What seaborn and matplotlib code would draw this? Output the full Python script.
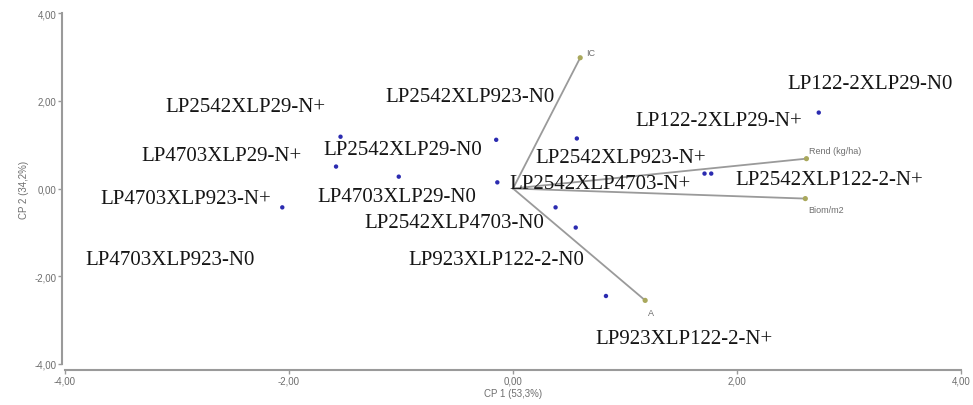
import matplotlib
matplotlib.use("Agg")
import matplotlib.pyplot as plt
import seaborn as sns
import pandas as pd

# Observation scores on the first two principal components
score_cp1 = [2.73, 0.57, -0.15, -1.54, -1.58, -1.02, -2.06, -0.14, 1.71, 1.77, 0.56, 0.38, 0.83]
score_cp2 = [1.73, 1.14, 1.11, 1.18, 0.50, 0.27, -0.43, 0.14, 0.34, 0.34, -0.89, -0.43, -2.45]

# Genotype x nitrogen treatment names
treatments = [
    "LP122-2XLP29-N0", "LP2542XLP923-N0", "LP2542XLP29-N+", "LP122-2XLP29-N+",
    "LP4703XLP29-N+", "LP2542XLP29-N0", "LP2542XLP923-N+", "LP2542XLP4703-N+",
    "LP2542XLP122-2-N+", "LP4703XLP923-N+", "LP4703XLP29-N0", "LP2542XLP4703-N0",
    "LP4703XLP923-N0", "LP923XLP122-2-N0", "LP923XLP122-2-N+",
]

# Variable loadings (biplot vectors)
variables = ["IC", "Rend (kg/ha)", "Biom/m2", "A"]
load_cp1 = [0.60, 2.62, 2.61, 1.18]
load_cp2 = [2.98, 0.68, -0.23, -2.55]

axis_ticks = [-4, -2, 0, 2, 4]
x_title = "CP 1 (53,3%)"
y_title = "CP 2 (34,2%)"

# Label placement (data coordinates of each treatment name centre)
label_pos = [
    (3.19, 2.39), (-0.38, 2.09), (-2.39, 1.86), (1.84, 1.55),
    (-2.60, 0.75), (-0.98, 0.89), (0.96, 0.70), (0.78, 0.11),
    (2.82, 0.20), (-2.92, -0.23), (-1.04, -0.18), (-0.52, -0.77),
    (-3.06, -1.61), (-0.15, -1.61), (1.53, -3.43),
]
# Offsets (points) of variable names from the vector tips
var_offsets = [(4, 4), (2, 6), (2, -8), (2, -9)]

sns.set_theme(style="white")
plt.rcParams["font.family"] = ["Liberation Sans", "DejaVu Sans"]

fig = plt.figure(figsize=(9.73, 4.06), dpi=100)
ax = fig.add_axes([65 / 973, 41 / 406, 896 / 973, 351 / 406])

gray = "#9a9a9a"
text_gray = "#6e6e6e"

# Loading vectors
for vx, vy in zip(load_cp1, load_cp2):
    ax.plot([0, vx], [0, vy], color=gray, lw=1.3, zorder=1)
loads = pd.DataFrame({"cp1": load_cp1, "cp2": load_cp2, "var": variables})
sns.scatterplot(data=loads, x="cp1", y="cp2", ax=ax, color="#a9a85c",
                s=14, edgecolor="none", zorder=3, legend=False)
for (name, vx, vy), off in zip(zip(variables, load_cp1, load_cp2), var_offsets):
    ax.annotate(name, (vx, vy), xytext=off, textcoords="offset points",
                fontsize=6.5, color=text_gray, ha="left", va="center")

# Observation scores
scores = pd.DataFrame({"cp1": score_cp1, "cp2": score_cp2})
sns.scatterplot(data=scores, x="cp1", y="cp2", ax=ax, color="#2b2bb0",
                s=10, edgecolor="none", zorder=4, legend=False)

for name, (lx, ly) in zip(treatments, label_pos):
    ax.text(lx, ly, name, fontsize=15, color="#151515", ha="center",
            va="center", family=["Liberation Serif", "DejaVu Serif"], zorder=5)

ax.set_xlim(-4, 4)
ax.set_ylim(-4, 4)
ax.set_xticks(axis_ticks)
ax.set_yticks(axis_ticks)
ax.set_xticklabels([f"{t:.2f}".replace(".", ",") for t in axis_ticks])
ax.set_yticklabels([f"{t:.2f}".replace(".", ",") for t in axis_ticks])
ax.set_xlabel(x_title, fontsize=7, color=text_gray, labelpad=2)
ax.set_ylabel(y_title, fontsize=7, color=text_gray, labelpad=4)

for side in ["top", "right"]:
    ax.spines[side].set_visible(False)
ax.spines["left"].set_position(("outward", 2))
ax.spines["bottom"].set_position(("outward", 4))
for side in ["left", "bottom"]:
    ax.spines[side].set_color(gray)
    ax.spines[side].set_linewidth(1.5)
    ax.spines[side].set_bounds(-4, 4)
ax.tick_params(axis="both", which="major", length=3, width=1, color=gray,
               labelsize=7, labelcolor=text_gray, pad=1,
               left=True, bottom=True)
ax.patch.set_alpha(0)

fig.savefig("out.png", dpi=100)
